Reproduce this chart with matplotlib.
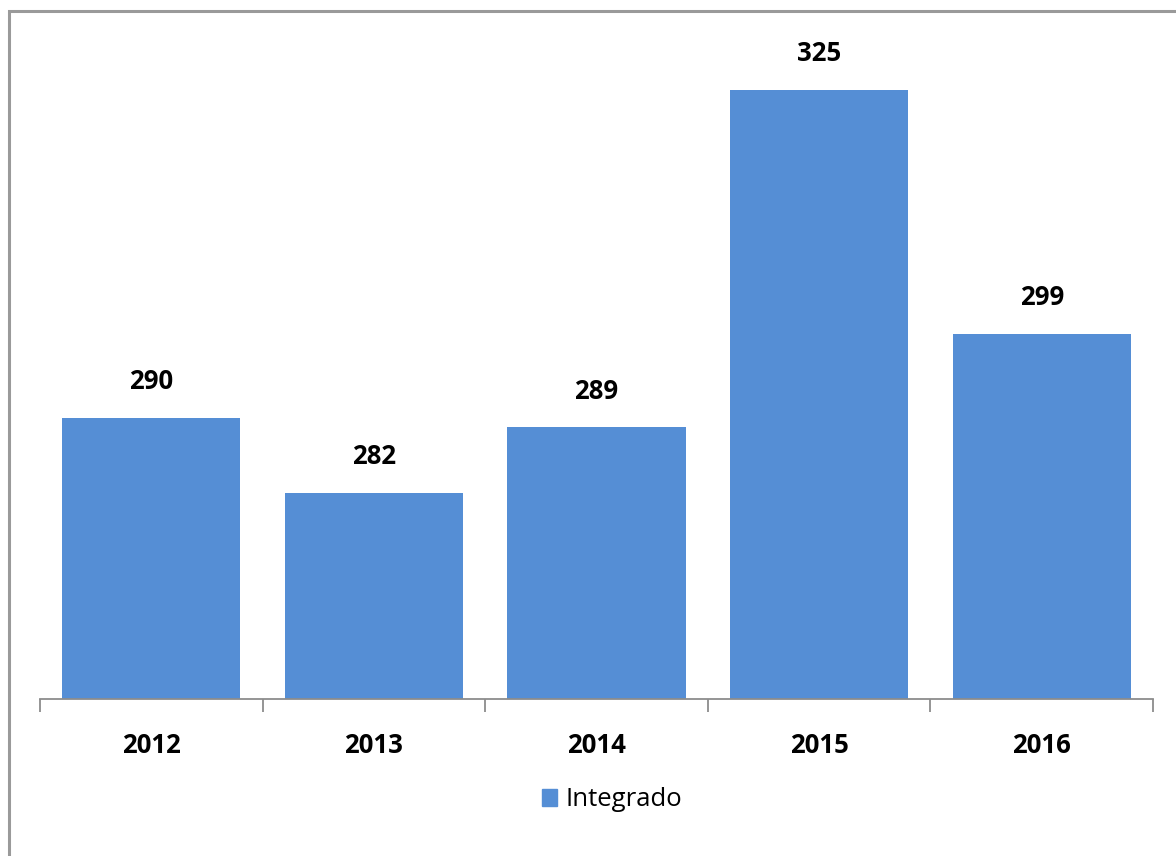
import matplotlib
matplotlib.use("Agg")
import matplotlib.pyplot as plt
from matplotlib.patches import Rectangle, Patch

years = ["2012", "2013", "2014", "2015", "2016"]
integrado = [290, 282, 289, 325, 299]
series_name = "Integrado"
bar_color = "#558ED5"

plt.rcParams["font.family"] = ["Open Sans", "DejaVu Sans"]

W, H = 1176, 856
fig = plt.figure(figsize=(W / 100, H / 100), dpi=100)

# outer chart frame (right/bottom edges run off the canvas)
fig.patches.append(Rectangle((9 / W, -0.05), 1.2, 1 - 11 / H + 0.05,
                             transform=fig.transFigure, fill=False,
                             edgecolor="#9a9a9a", linewidth=2.2))

ax = fig.add_axes([40 / W, 1 - 699 / H, (1153 - 40) / W, (699 - 43) / H])
x = range(len(years))
bars = ax.bar(x, integrado, width=0.8, color=bar_color, bottom=0)
ax.set_ylim(260, 330)
ax.set_xlim(-0.5, len(years) - 0.5)

for b, v in zip(bars, integrado):
    ax.annotate(f"{v}", (b.get_x() + b.get_width() / 2, v),
                xytext=(0, 26), textcoords="offset points",
                ha="center", va="center", fontsize=18.5, fontweight="bold")

for s in ["top", "right", "left"]:
    ax.spines[s].set_visible(False)
ax.spines["bottom"].set_color("#8c8c8c")
ax.spines["bottom"].set_linewidth(1.3)
ax.set_yticks([])
ax.set_xticks([i - 0.5 for i in range(len(years) + 1)], minor=False)
ax.set_xticklabels([])
ax.tick_params(axis="x", which="major", length=9, width=1.3, color="#8c8c8c")
ax.set_xticks(list(x), minor=True)
ax.set_xticklabels(years, minor=True, fontsize=18.5, fontweight="bold")
ax.tick_params(axis="x", which="minor", length=0, pad=24)

fig.legend(handles=[Patch(color=bar_color, label=series_name)],
           loc="center", bbox_to_anchor=(612 / W, 1 - 800 / H),
           frameon=False, fontsize=18.5, handlelength=0.6, handleheight=0.6,
           handletextpad=0.3)

fig.savefig("out.png", dpi=100, facecolor="white")
